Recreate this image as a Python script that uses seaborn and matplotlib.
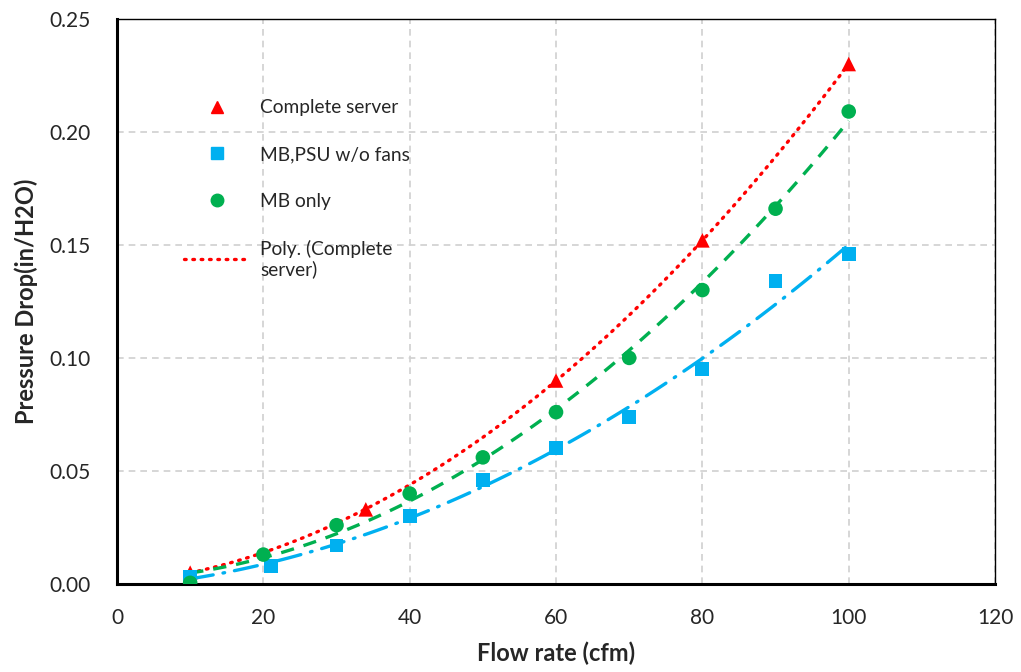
import numpy as np
import pandas as pd
import matplotlib.pyplot as plt
import seaborn as sns
from matplotlib.lines import Line2D

cs_flow = [10, 34, 60, 80, 100]
cs_dp = [0.005, 0.033, 0.090, 0.152, 0.230]

psu_flow = [10, 21, 30, 40, 50, 60, 70, 80, 90, 100]
psu_dp = [0.003, 0.008, 0.017, 0.030, 0.046, 0.060, 0.074, 0.095, 0.134, 0.146]

mb_flow = [10, 20, 30, 40, 50, 60, 70, 80, 90, 100]
mb_dp = [0.0005, 0.013, 0.026, 0.040, 0.056, 0.076, 0.100, 0.130, 0.166, 0.209]

red = '#ff0000'
blue = '#00b0f0'
green = '#00b050'

sns.set_style('white')
plt.rcParams['font.family'] = ['Lato', 'DejaVu Sans']

fig = plt.figure(figsize=(10.21, 6.72), dpi=100)
ax = fig.add_axes([0.1146, 0.131, 0.86, 0.841])

# polynomial trend lines (2nd order)
sns.regplot(x=cs_flow, y=cs_dp, order=2, ci=None, scatter=False, ax=ax,
            line_kws=dict(color=red, lw=2.4, ls=(0, (0.5, 2.0)), dash_capstyle='round', zorder=2))
sns.regplot(x=psu_flow, y=psu_dp, order=2, ci=None, scatter=False, ax=ax,
            line_kws=dict(color=blue, lw=2.4, ls=(0, (7, 3, 0.5, 3)), dash_capstyle='round', zorder=2))
sns.regplot(x=mb_flow, y=mb_dp, order=2, ci=None, scatter=False, ax=ax,
            line_kws=dict(color=green, lw=2.4, ls=(0, (4, 3)), zorder=2))

sns.scatterplot(x=cs_flow, y=cs_dp, marker='^', s=110, color=red, edgecolor='none', ax=ax, zorder=3)
sns.scatterplot(x=psu_flow, y=psu_dp, marker='s', s=100, color=blue, edgecolor='none', ax=ax, zorder=3)
sns.scatterplot(x=mb_flow, y=mb_dp, marker='o', s=110, color=green, edgecolor='none', ax=ax, zorder=3)

ax.set_xlim(0, 120)
ax.set_ylim(0, 0.25)
ax.set_xticks(range(0, 121, 20))
ax.set_yticks(np.arange(0, 0.26, 0.05))
ax.set_yticklabels([f'{v:.2f}' for v in np.arange(0, 0.26, 0.05)])
ax.tick_params(labelsize=15, length=0)
ax.tick_params(axis='x', pad=17)
ax.tick_params(axis='y', pad=19)
ax.grid(True, ls=(0, (4, 3)), color='#d0d0d0', lw=1.2)

for side in ['left', 'bottom']:
    ax.spines[side].set_linewidth(2.2)
    ax.spines[side].set_color('black')
for side in ['top', 'right']:
    ax.spines[side].set_linewidth(1.0)
    ax.spines[side].set_color('black')

ax.set_xlabel('Flow rate (cfm)', fontsize=17, fontweight='bold', labelpad=10)
ax.set_ylabel('Pressure Drop(in/H2O)', fontsize=17, fontweight='bold', labelpad=8)

handles = [
    Line2D([], [], marker='^', color=red, ls='none', markersize=9),
    Line2D([], [], marker='s', color=blue, ls='none', markersize=8),
    Line2D([], [], marker='o', color=green, ls='none', markersize=9),
    Line2D([], [], color=red, lw=2.4, ls=(0, (0.5, 2.0)), dash_capstyle='round'),
]
labels = ['Complete server', 'MB,PSU w/o fans', 'MB only', 'Poly. (Complete\nserver)']
ax.legend(handles, labels, loc='upper left', bbox_to_anchor=(0.057, 0.888), frameon=False,
          fontsize=13.8, labelspacing=1.55, handlelength=3.4, handletextpad=0.55)

plt.savefig('out.png', dpi=100)
